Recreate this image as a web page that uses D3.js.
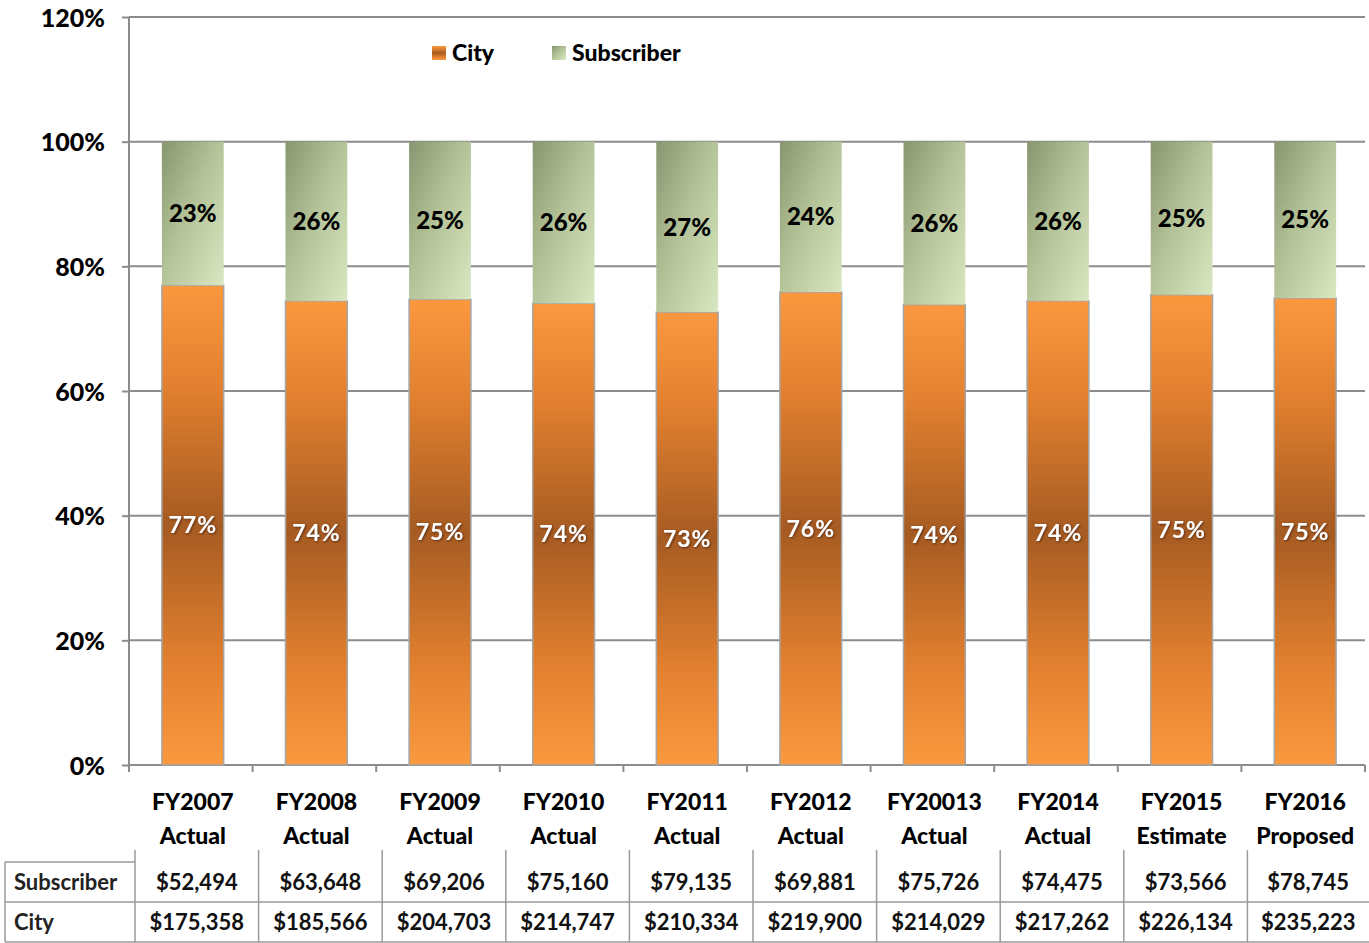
<!DOCTYPE html>
<html>
<head>
<meta charset="utf-8">
<script src="https://cdn.jsdelivr.net/npm/d3@7"></script>
<style>
  html, body { margin: 0; padding: 0; background: #fff; }
  svg { display: block; font-family: Lato, "Open Sans", sans-serif; }
</style>
</head>
<body>
<svg id="chart" width="1369" height="943"></svg>
<script>
// Funding by source, in dollars
const yearLabels = ["FY2007", "FY2008", "FY2009", "FY2010", "FY2011", "FY2012", "FY20013", "FY2014", "FY2015", "FY2016"];
const statusLabels = ["Actual", "Actual", "Actual", "Actual", "Actual", "Actual", "Actual", "Actual", "Estimate", "Proposed"];
const subscriberValues = [52494, 63648, 69206, 75160, 79135, 69881, 75726, 74475, 73566, 78745];
const cityValues = [175358, 185566, 204703, 214747, 210334, 219900, 214029, 217262, 226134, 235223];
const yTicks = [0, 0.2, 0.4, 0.6, 0.8, 1.0, 1.2];
const seriesNames = ["City", "Subscriber"];

const svg = d3.select("#chart");
const plotLeft = 129, plotRight = 1365, plotTop = 17, plotBottom = 765;
const barShift = 2;

const x = d3.scaleBand().domain(yearLabels).range([plotLeft, plotRight]).paddingInner(0.5).paddingOuter(0.25);
const y = d3.scaleLinear().domain([0, 1.2]).range([plotBottom, plotTop]);

// Gradients
const defs = svg.append("defs");
const gCity = defs.append("linearGradient").attr("id", "gradCity").attr("x1", 0).attr("y1", 0).attr("x2", 0).attr("y2", 1);
[[0, "#fb983f"], [0.22, "#e07f2f"], [0.5, "#a65b22"], [0.78, "#e07f2f"], [1, "#fb993f"]]
  .forEach(([o, c]) => gCity.append("stop").attr("offset", o).attr("stop-color", c));
const gSub = defs.append("linearGradient").attr("id", "gradSub").attr("x1", 0).attr("y1", 0).attr("x2", 1).attr("y2", 1);
[[0, "#87966f"], [0.45, "#b2c196"], [1, "#dae8c2"]]
  .forEach(([o, c]) => gSub.append("stop").attr("offset", o).attr("stop-color", c));
const shadow = defs.append("filter").attr("id", "txtShadow").attr("x", "-20%").attr("y", "-20%").attr("width", "140%").attr("height", "140%");
shadow.append("feDropShadow").attr("dx", 1).attr("dy", 1).attr("stdDeviation", 0.8).attr("flood-color", "#3a1f08").attr("flood-opacity", 0.7);

// Gridlines
svg.append("g").selectAll("line").data(yTicks.filter(t => t > 0)).join("line")
  .attr("x1", plotLeft).attr("x2", plotRight)
  .attr("y1", d => y(d)).attr("y2", d => y(d))
  .attr("stroke", "#8c8c8c").attr("stroke-width", 2);

// Y axis
const yAxis = svg.append("g").attr("transform", `translate(${plotLeft},0)`)
  .call(d3.axisLeft(y).tickValues(yTicks).tickFormat(d3.format(".0%")).tickSize(7).tickPadding(17));
yAxis.select(".domain").attr("stroke", "#8c8c8c").attr("stroke-width", 2).attr("d", `M0,${plotTop}V${plotBottom + 7}`);
yAxis.selectAll(".tick line").attr("stroke", "#8c8c8c").attr("stroke-width", 2);
yAxis.selectAll(".tick text").attr("font-size", 25).attr("font-weight", 900).attr("fill", "#000")
  .attr("font-family", "Lato, sans-serif").attr("dy", "0.36em");

// X baseline and category ticks
svg.append("line").attr("x1", plotLeft).attr("x2", plotRight).attr("y1", plotBottom).attr("y2", plotBottom)
  .attr("stroke", "#8c8c8c").attr("stroke-width", 2);
const edges = yearLabels.map(d => x(d) - x.step() * x.paddingInner() / 2).concat([plotRight]);
svg.append("g").selectAll("line").data(edges).join("line")
  .attr("x1", d => d).attr("x2", d => d).attr("y1", plotBottom).attr("y2", plotBottom + 7)
  .attr("stroke", "#8c8c8c").attr("stroke-width", 2);

// Stacked shares
const rows = yearLabels.map((k, i) => {
  const total = cityValues[i] + subscriberValues[i];
  return { key: k, city: cityValues[i] / total, sub: subscriberValues[i] / total };
});

const bars = svg.append("g").attr("transform", `translate(${barShift},0)`).selectAll("g").data(rows).join("g");
bars.append("rect")
  .attr("x", d => x(d.key)).attr("width", x.bandwidth())
  .attr("y", d => y(d.city)).attr("height", d => y(0) - y(d.city))
  .attr("fill", "url(#gradCity)").attr("stroke", "#a5a5a5").attr("stroke-width", 1.5);
bars.append("rect")
  .attr("x", d => x(d.key)).attr("width", x.bandwidth())
  .attr("y", d => y(1)).attr("height", d => y(d.city) - y(1))
  .attr("fill", "url(#gradSub)");

// Share labels
bars.append("text")
  .attr("x", d => x(d.key) + x.bandwidth() / 2)
  .attr("y", d => (y(0) + y(d.city)) / 2)
  .attr("dy", "0.36em").attr("text-anchor", "middle")
  .attr("font-size", 23).attr("font-weight", 700).attr("fill", "#fff")
  .attr("filter", "url(#txtShadow)").attr("letter-spacing", 1)
  .text(d => Math.round(d.city * 100) + "%");
bars.append("text")
  .attr("x", d => x(d.key) + x.bandwidth() / 2)
  .attr("y", d => (y(1) + y(d.city)) / 2)
  .attr("dy", "0.36em").attr("text-anchor", "middle")
  .attr("font-size", 24).attr("font-weight", 900).attr("fill", "#000")
  .text(d => Math.round(d.sub * 100) + "%");

// Legend
const legend = svg.append("g");
const legendPos = [{ name: seriesNames[0], sx: 432, fill: "url(#gradCity)" }, { name: seriesNames[1], sx: 552, fill: "url(#gradSub)" }];
legend.selectAll("rect").data(legendPos).join("rect")
  .attr("x", d => d.sx).attr("y", 46).attr("width", 14).attr("height", 14).attr("fill", d => d.fill);
legend.selectAll("text").data(legendPos).join("text")
  .attr("x", d => d.sx + 20).attr("y", 61)
  .attr("font-size", 23).attr("font-weight", 900).attr("fill", "#000")
  .text(d => d.name);

// Category labels
const cats = svg.append("g").selectAll("g").data(yearLabels).join("g")
  .attr("transform", d => `translate(${x(d) + x.bandwidth() / 2 + barShift},0)`);
cats.append("text").attr("y", 810).attr("text-anchor", "middle")
  .attr("font-size", 23).attr("font-weight", 900).text(d => d);
cats.append("text").attr("y", 844).attr("text-anchor", "middle")
  .attr("font-size", 23).attr("font-weight", 900).text((d, i) => statusLabels[i]);

// Data table
const table = svg.append("g");
const tableShift = 6;
const colEdges = edges.map(e => e + tableShift);
colEdges[colEdges.length - 1] = 1369;
const rowTop = 862, rowMid = 902, rowBot = 942, labelLeft = 5;
const lineStyle = s => s.attr("stroke", "#9a9a9a").attr("stroke-width", 1.5);
table.append("line").attr("x1", labelLeft).attr("x2", colEdges[0]).attr("y1", rowTop).attr("y2", rowTop).call(lineStyle);
table.append("line").attr("x1", labelLeft).attr("x2", 1369).attr("y1", rowMid).attr("y2", rowMid).call(lineStyle);
table.append("line").attr("x1", labelLeft).attr("x2", 1369).attr("y1", rowBot).attr("y2", rowBot).call(lineStyle);
table.append("line").attr("x1", labelLeft).attr("x2", labelLeft).attr("y1", rowTop).attr("y2", rowBot).call(lineStyle);
table.selectAll("line.col").data(colEdges.slice(0, -1)).join("line").attr("class", "col")
  .attr("x1", d => d).attr("x2", d => d).attr("y1", 850).attr("y2", rowBot).call(lineStyle);

const tableRows = [{ name: "Subscriber", values: subscriberValues, yb: 890 }, { name: "City", values: cityValues, yb: 930 }];
const fmt = d3.format("$,");
tableRows.forEach(r => {
  table.append("text").attr("x", 14).attr("y", r.yb).attr("font-size", 22).attr("font-weight", 700)
    .attr("fill", "#222").text(r.name);
  table.append("g").selectAll("text").data(r.values).join("text")
    .attr("x", (d, i) => (colEdges[i] + colEdges[i + 1]) / 2)
    .attr("y", r.yb).attr("text-anchor", "middle")
    .attr("font-size", 22).attr("font-weight", 700).attr("fill", "#111")
    .text(d => fmt(d));
});
</script>
</body>
</html>
